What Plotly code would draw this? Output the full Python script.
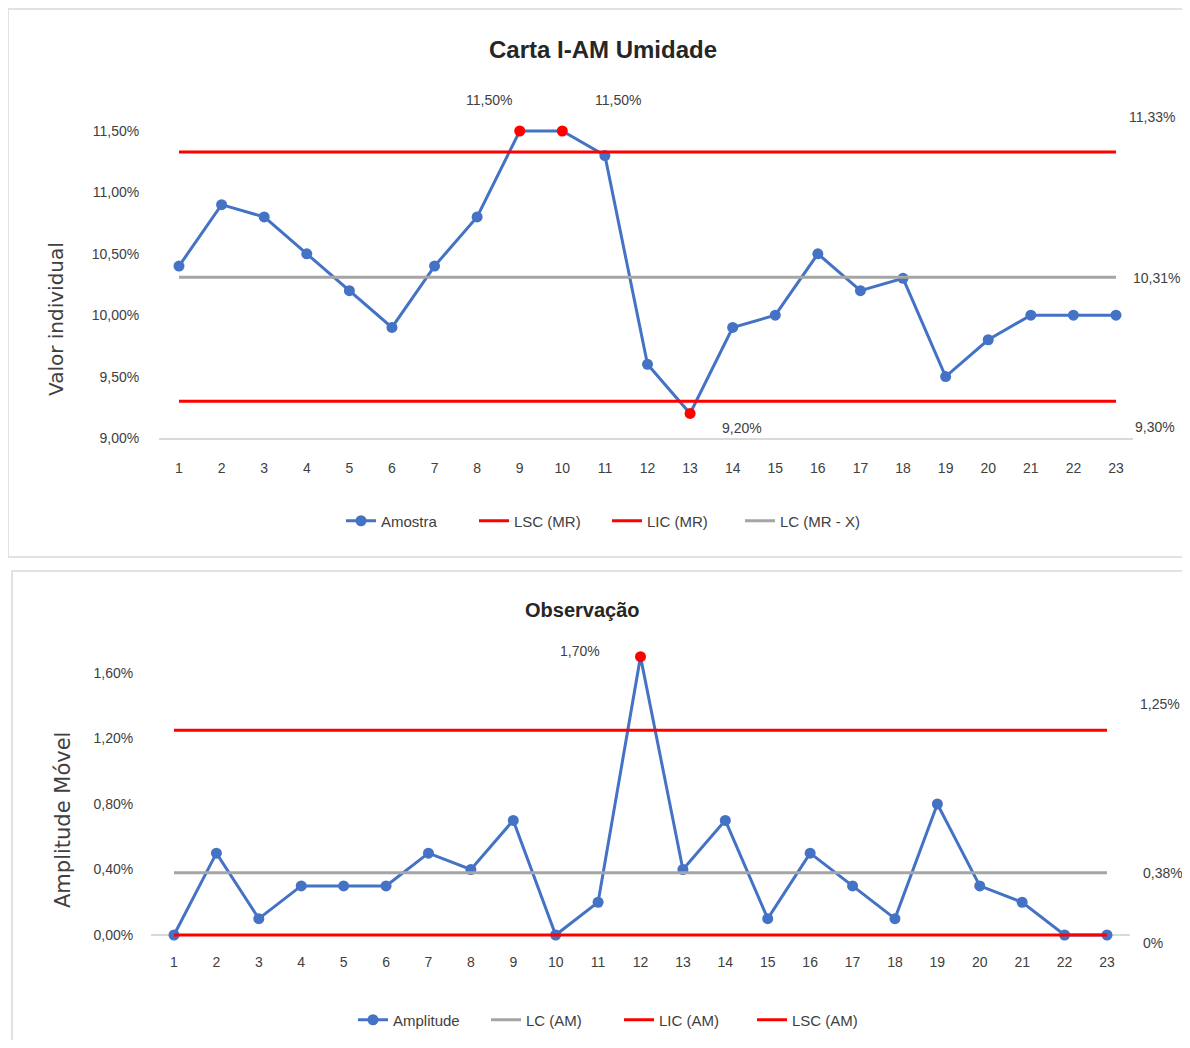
import plotly.graph_objects as go

# ---------------- data ----------------
amostras = list(range(1, 24))
valor_individual = [10.4, 10.9, 10.8, 10.5, 10.2, 9.9, 10.4, 10.8, 11.5, 11.5, 11.3, 9.6,
                    9.2, 9.9, 10.0, 10.5, 10.2, 10.3, 9.5, 9.8, 10.0, 10.0, 10.0]
lsc_mr = 11.33
lic_mr = 9.30
lc_mrx = 10.31

amplitude = [0.0, 0.5, 0.1, 0.3, 0.3, 0.3, 0.5, 0.4, 0.7, 0.0, 0.2, 1.7,
             0.4, 0.7, 0.1, 0.5, 0.3, 0.1, 0.8, 0.3, 0.2, 0.0, 0.0]
lc_am = 0.38
lic_am = 0.0
lsc_am = 1.25

top_ticks = [9.0, 9.5, 10.0, 10.5, 11.0, 11.5]
bot_ticks = [0.0, 0.4, 0.8, 1.2, 1.6]

# ---------------- layout helpers ----------------
OFF = 8                       # page body margin of the browser
W, H = 1190 - OFF, 1048 - 2 * OFF
def px(x): return max(0.0, (x - OFF) / W)
def py(y): return 1 - (y - OFF) / H

BLUE = "#4472C4"
RED = "#FF0000"
GRAY = "#A5A5A5"
TXT = "#404040"
FONT = "Liberation Sans, Arial, sans-serif"
AXFONT = "DejaVu Sans, Verdana, sans-serif"

def fmt(v, dec=2):
    return f"{v:.{dec}f}".replace(".", ",") + "%"

def xrange(x_left_px, x_right_px, first_px, last_px, n):
    per = (last_px - first_px) / (n - 1)
    return [1 - (first_px - x_left_px) / per, n + (x_right_px - last_px) / per]

def yrange(bot_px, top_px, v0, v0_px, v1, v1_px):
    per = (v0_px - v1_px) / (v1 - v0)
    return [v0 - (bot_px - v0_px) / per, v1 + (v1_px - top_px) / per]

n = len(amostras)
top_colors = [RED if (v > lsc_mr or v < lic_mr) else BLUE for v in valor_individual]
bot_colors = [RED if (v > lsc_am) else BLUE for v in amplitude]

fig = go.Figure()

# ---- top chart ----
fig.add_trace(go.Scatter(x=amostras, y=valor_individual, mode="lines+markers", name="Amostra",
                         line=dict(color=BLUE, width=3), marker=dict(color=top_colors, size=11),
                         cliponaxis=False, xaxis="x", yaxis="y", legend="legend"))
fig.add_trace(go.Scatter(x=amostras, y=[lsc_mr] * n, mode="lines", name="LSC (MR)",
                         line=dict(color=RED, width=3), cliponaxis=False,
                         xaxis="x", yaxis="y", legend="legend"))
fig.add_trace(go.Scatter(x=amostras, y=[lic_mr] * n, mode="lines", name="LIC (MR)",
                         line=dict(color=RED, width=3), cliponaxis=False,
                         xaxis="x", yaxis="y", legend="legend"))
fig.add_trace(go.Scatter(x=amostras, y=[lc_mrx] * n, mode="lines", name="LC (MR - X)",
                         line=dict(color=GRAY, width=3), cliponaxis=False,
                         xaxis="x", yaxis="y", legend="legend"))

# ---- bottom chart ----
fig.add_trace(go.Scatter(x=amostras, y=amplitude, mode="lines+markers", name="Amplitude",
                         line=dict(color=BLUE, width=3), marker=dict(color=bot_colors, size=11),
                         cliponaxis=False, xaxis="x2", yaxis="y2", legend="legend2"))
fig.add_trace(go.Scatter(x=amostras, y=[lc_am] * n, mode="lines", name="LC (AM)",
                         line=dict(color=GRAY, width=3), cliponaxis=False,
                         xaxis="x2", yaxis="y2", legend="legend2"))
fig.add_trace(go.Scatter(x=amostras, y=[lic_am] * n, mode="lines", name="LIC (AM)",
                         line=dict(color=RED, width=3), cliponaxis=False,
                         xaxis="x2", yaxis="y2", legend="legend2"))
fig.add_trace(go.Scatter(x=amostras, y=[lsc_am] * n, mode="lines", name="LSC (AM)",
                         line=dict(color=RED, width=3), cliponaxis=False,
                         xaxis="x2", yaxis="y2", legend="legend2"))

tickfont = dict(family=FONT, size=14, color=TXT)

annotations = []
def ann(text, x, y, xref, yref, xshift=0, yshift=0, size=14, bold=False, family=FONT, angle=0):
    annotations.append(dict(text=f"<b>{text}</b>" if bold else text, x=x, y=y, xref=xref, yref=yref,
                            xshift=xshift, yshift=yshift, showarrow=False, textangle=angle,
                            xanchor="center", yanchor="middle",
                            font=dict(family=family, size=size, color=TXT if not bold else "#262626")))

# titles
ann("Carta I-AM Umidade", px(603), py(50), "paper", "paper", size=24, bold=True)
ann("Observação", px(582), py(610), "paper", "paper", size=20, bold=True)
# axis titles
ann("Valor individual", px(56), py(319), "paper", "paper", size=20, family=AXFONT, angle=-90)
ann("Amplitude Móvel", px(63), py(820), "paper", "paper", size=21, family=AXFONT, angle=-90)

# data labels (top)
ann(fmt(valor_individual[8]), amostras[8], valor_individual[8], "x", "y", xshift=-31, yshift=31)
ann(fmt(valor_individual[9]), amostras[9], valor_individual[9], "x", "y", xshift=56, yshift=31)
ann(fmt(valor_individual[12]), amostras[12], valor_individual[12], "x", "y", xshift=52, yshift=-15)
ann(fmt(lsc_mr), amostras[-1], lsc_mr, "x", "y", xshift=36, yshift=35)
ann(fmt(lc_mrx), amostras[-1], lc_mrx, "x", "y", xshift=40, yshift=-1)
ann(fmt(lic_mr), amostras[-1], lic_mr, "x", "y", xshift=39, yshift=-26)
# data labels (bottom)
ann(fmt(amplitude[11]), amostras[11], amplitude[11], "x2", "y2", xshift=-61, yshift=6)
ann(fmt(lsc_am), amostras[-1], lsc_am, "x2", "y2", xshift=53, yshift=26)
ann(fmt(lc_am), amostras[-1], lc_am, "x2", "y2", xshift=56, yshift=0)
ann("0%", amostras[-1], lic_am, "x2", "y2", xshift=46, yshift=-8)

shapes = [
    dict(type="rect", xref="paper", yref="paper", x0=px(7), x1=px(1189), y0=py(557), y1=py(9),
         line=dict(color="#D9D9D9", width=1.5), layer="below"),
    dict(type="rect", xref="paper", yref="paper", x0=px(12), x1=px(1189), y0=py(1070), y1=py(571),
         line=dict(color="#D9D9D9", width=1.5), layer="below"),
]

top_xd = [px(159), px(1133)]
bot_xd = [px(151), px(1130)]
top_ybot, top_ytop = 438, 122
bot_ybot, bot_ytop = 942, 650

fig.update_layout(
    width=W, height=H, margin=dict(l=0, r=0, t=0, b=0, autoexpand=False),
    paper_bgcolor="white", plot_bgcolor="white",
    separators=",.",
    showlegend=True,
    xaxis=dict(domain=top_xd, range=xrange(159, 1133, 179, 1116, n), tickmode="array",
               tickvals=amostras, ticktext=[str(a) for a in amostras], showgrid=False, zeroline=False,
               showline=True, linecolor="#D9D9D9", linewidth=1.5, ticks="outside", ticklen=16,
               tickcolor="rgba(0,0,0,0)", tickfont=tickfont, anchor="y", automargin=False,
               fixedrange=True, layer="below traces"),
    yaxis=dict(domain=[py(top_ybot), py(top_ytop)],
               range=yrange(top_ybot, top_ytop, 9.0, 438, 11.5, 131),
               tickmode="array", tickvals=top_ticks, ticktext=[fmt(v) for v in top_ticks],
               showgrid=False, zeroline=False, showline=False,
               ticks="outside", ticklen=16, tickcolor="rgba(0,0,0,0)", tickfont=tickfont,
               anchor="x", automargin=False, fixedrange=True, layer="below traces"),
    xaxis2=dict(domain=bot_xd, range=xrange(151, 1130, 174, 1107, n), tickmode="array",
                tickvals=amostras, ticktext=[str(a) for a in amostras], showgrid=False, zeroline=False,
                showline=True, linecolor="#D9D9D9", linewidth=1.5, ticks="outside", ticklen=14,
                tickcolor="rgba(0,0,0,0)", tickfont=tickfont, anchor="free", position=py(935),
                automargin=False, fixedrange=True, layer="below traces"),
    yaxis2=dict(domain=[py(bot_ybot), py(bot_ytop)],
                range=yrange(bot_ybot, bot_ytop, 0.0, 935, 1.6, 673),
                tickmode="array", tickvals=bot_ticks, ticktext=[fmt(v) for v in bot_ticks],
                showgrid=False, zeroline=False, showline=False,
                ticks="outside", ticklen=14, tickcolor="rgba(0,0,0,0)", tickfont=tickfont,
                anchor="x2", automargin=False, fixedrange=True, layer="below traces"),
    legend=dict(orientation="h", x=px(607), y=py(521), xanchor="center", yanchor="middle",
                entrywidth=88, entrywidthmode="pixels",
                font=dict(family=FONT, size=15, color=TXT), bgcolor="rgba(0,0,0,0)"),
    legend2=dict(orientation="h", x=px(619), y=py(1020), xanchor="center", yanchor="middle",
                 entrywidth=88, entrywidthmode="pixels",
                 font=dict(family=FONT, size=15, color=TXT), bgcolor="rgba(0,0,0,0)"),
    annotations=annotations,
    shapes=shapes,
)

fig.write_html("out.html")
